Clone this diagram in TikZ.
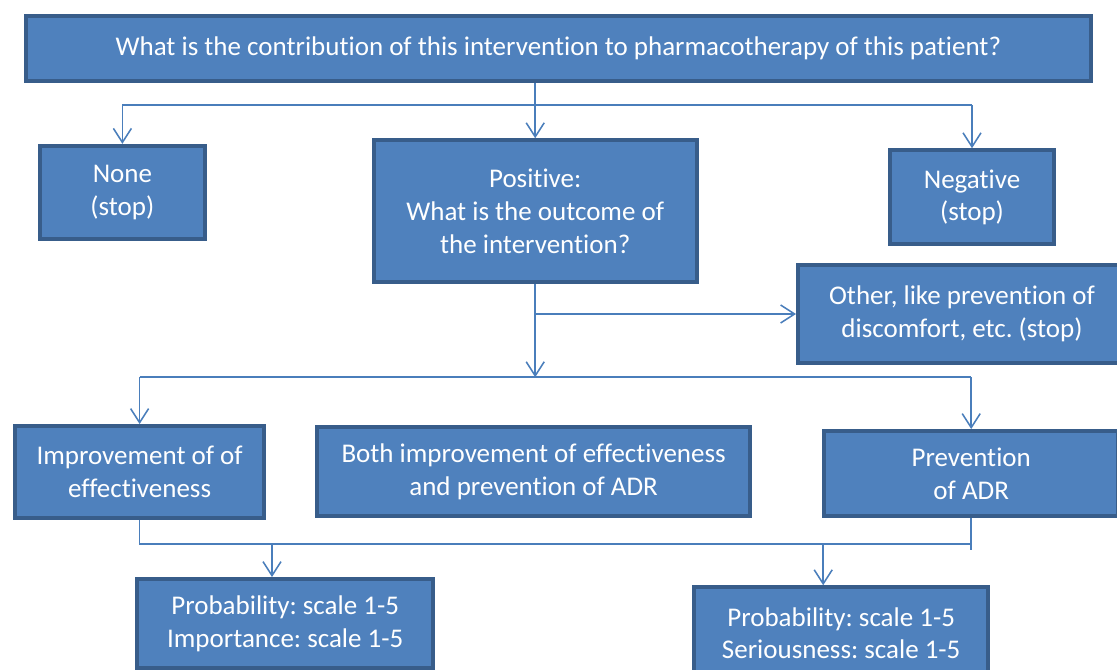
\documentclass[tikz,border=0pt]{standalone}
\usepackage{fontspec}
\setmainfont{Carlito}[Ligatures=NoCommon]
\usetikzlibrary{arrows.meta}
\definecolor{boxfill}{HTML}{4F81BD}
\definecolor{boxline}{HTML}{385D8A}
\definecolor{wire}{HTML}{4A7EBB}
\frenchspacing
\begin{document}
\begin{tikzpicture}[font=\fontsize{19.2}{23.2}\selectfont,
  box/.style={draw=boxline, line width=2.8pt, fill=boxfill, text=white, align=center, inner sep=0cm},
  conn/.style={draw=wire, line width=1.1pt},
  arr/.style={conn, -{Straight Barb[length=3.5mm, width=4.5mm]}}]
\useasboundingbox (0,0) rectangle (27.925,-16.75);

\node[box, minimum width=26.63cm, minimum height=1.63cm] (q) at (13.96,-1.21) {What is the contribution of this intervention to pharmacotherapy of this patient?};

\node[box, minimum width=4.13cm, minimum height=2.33cm] (none) at (3.06,-4.81) {None\\(stop)};
\node[box, minimum width=8.08cm, minimum height=3.55cm] (pos) at (13.38,-5.28) {Positive:\\What is the outcome of\\the intervention?};
\node[box, minimum width=4.08cm, minimum height=2.35cm] (neg) at (24.3,-4.93) {Negative\\(stop)};
\node[box, minimum width=8.2cm, minimum height=2.45cm] (other) at (24.05,-7.85) {Other, like prevention of\\discomfort, etc. (stop)};

\node[box, minimum width=6.23cm, minimum height=2.3cm] (impr) at (3.49,-11.8) {Improvement of of\\effectiveness};
\node[box, minimum width=10.83cm, minimum height=2.23cm] (both) at (13.34,-11.79) {Both improvement of effectiveness\\and prevention of ADR};
\node[box, minimum width=7.35cm, minimum height=2.13cm] (prev) at (24.28,-11.84) {Prevention\\of ADR};

\node[box, minimum width=7.4cm, minimum height=2.23cm] (probi) at (7.13,-15.59) {Probability: scale 1-5\\Importance: scale 1-5};
\node[box, minimum width=7.35cm, minimum height=2.3cm] (probs) at (21.03,-15.83) {Probability: scale 1-5\\Seriousness: scale 1-5};

% first split
\coordinate (b1) at (0,-2.63);
\draw[arr] (q.south -| pos.north) -- (pos.north);
\draw[conn] (b1 -| none.north) -- (b1 -| neg.north);
\draw[arr] (b1 -| none.north) -- (none.north);
\draw[arr] (b1 -| neg.north) -- (neg.north);

% outcome
\coordinate (b2) at (0,-9.43);
\draw[arr] (pos.south) -- (pos.south |- b2);
\draw[arr] (pos.south |- other.west) -- (other.west);
\draw[conn] (b2 -| impr.north) -- (b2 -| prev.north);
\draw[arr] (b2 -| impr.north) -- (impr.north);
\draw[arr] (b2 -| prev.north) -- (prev.north);

% scales
\coordinate (b3) at (0,-13.6);
\coordinate (j1) at (6.8,-13.6);
\coordinate (j2) at (20.58,-13.6);
\draw[conn] (impr.south) -- (impr.south |- b3) -- (b3 -| prev.south) -- ([yshift=-0.15cm]b3 -| prev.south);
\draw[conn] (b3 -| prev.south) -- (prev.south);
\draw[arr] (j1) -- (j1 |- probi.north);
\draw[arr] (j2) -- (j2 |- probs.north);
\end{tikzpicture}
\end{document}
